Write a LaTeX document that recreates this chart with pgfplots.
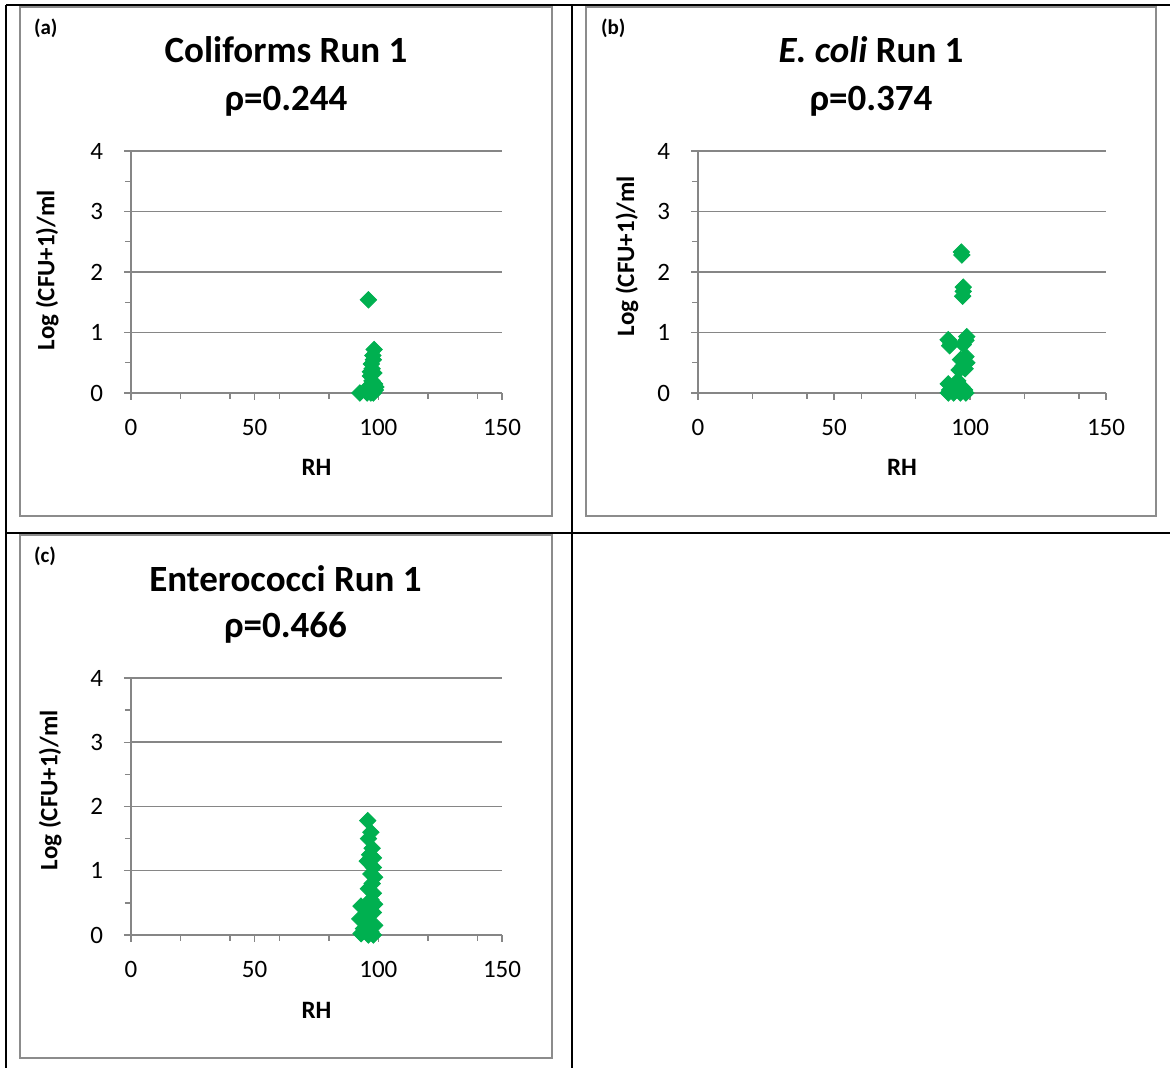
\documentclass[border=0pt]{standalone}
\usepackage{pgfplots}
\pgfplotsset{compat=1.18}
\usepackage{fontspec}
\setmainfont{Carlito}
\definecolor{xlgreen}{RGB}{0,176,80}
\definecolor{axgray}{RGB}{134,134,134}
\definecolor{framegray}{RGB}{140,140,140}
\pgfplotsset{
  rhstyle/.style={
    scale only axis,
    anchor=origin,
    xmin=0, xmax=150, ymin=0, ymax=4,
    xtick={0,50,100,150},
    minor xtick={20,40,60,80,120,140},
    ytick={0,1,2,3,4},
    minor ytick={0.5,1.5,2.5,3.5},
    tick align=outside,
    major tick length=3.5pt,
    minor tick length=3pt,
    tick style={draw=axgray, line width=0.7pt},
    minor tick style={draw=axgray, line width=0.7pt},
    axis x line*=bottom,
    axis y line*=left,
    axis line style={-, draw=axgray, line width=0.8pt},
    ymajorgrids,
    major grid style={draw=axgray, line width=0.75pt},
    clip=false,
    /pgf/number format/assume math mode=true,
    ticklabel style={font=\fontsize{12.5}{15}\selectfont},
    xticklabel style={yshift=-6pt},
    yticklabel style={xshift=-7pt},
    label style={font=\bfseries\fontsize{12.5}{15}\selectfont},
    xlabel={RH},
    ylabel={Log (CFU+1)/ml},
  },
  greendia/.style={only marks, mark=square*, mark size=2.9pt,
      mark options={rotate=45, fill=xlgreen, draw=xlgreen}, draw=xlgreen},
}
\begin{document}
\begin{tikzpicture}
\useasboundingbox (0,0) rectangle (585pt,534pt);
% table lines
\draw[line width=1pt] (3pt,0) -- (3pt,531.5pt);
\draw[line width=1pt] (3pt,531.5pt) -- (585pt,531.5pt);
\draw[line width=1pt] (286pt,0) -- (286pt,531.5pt);
\draw[line width=1pt] (3pt,267.5pt) -- (585pt,267.5pt);
% chart frames
\draw[framegray, line width=0.8pt] (10pt,276pt) rectangle (276pt,530.5pt);
\draw[framegray, line width=0.8pt] (293pt,276pt) rectangle (578pt,530.5pt);
\draw[framegray, line width=0.8pt] (10pt,5pt) rectangle (276pt,266.5pt);
% panel letters
\node[anchor=west, font=\bfseries\fontsize{10.5}{12}\selectfont] at (13.5pt,520pt) {(a)};
\node[anchor=west, font=\bfseries\fontsize{10.5}{12}\selectfont] at (297pt,520pt) {(b)};
\node[anchor=west, font=\bfseries\fontsize{10.5}{12}\selectfont] at (13.5pt,256pt) {(c)};
% titles
\node[font=\bfseries\fontsize{18.5}{22}\selectfont] at (143pt,509pt) {Coliforms Run 1};
\node[font=\bfseries\fontsize{18.5}{22}\selectfont] at (143pt,483.5pt) {ρ=0.244};
\node[font=\bfseries\fontsize{18.5}{22}\selectfont] at (435.5pt,509pt) {\textit{E. coli} Run 1};
\node[font=\bfseries\fontsize{18.5}{22}\selectfont] at (435.5pt,483.5pt) {ρ=0.374};
\node[font=\bfseries\fontsize{18.5}{22}\selectfont] at (142.75pt,244.5pt) {Enterococci Run 1};
\node[font=\bfseries\fontsize{18.5}{22}\selectfont] at (142.75pt,220pt) {ρ=0.466};

% (a)
\begin{axis}[rhstyle, at={(65.5pt,337.5pt)}, width=185.5pt, height=121pt,
  xlabel style={at={(axis description cs:0.5,-0.306)}, anchor=center},
  ylabel style={at={(axis description cs:-0.226,0.508)}, anchor=center, rotate=0}]
\addplot[greendia] coordinates {(92.5,0) (96,1.54) (98.3,0.72) (97.8,0.62) (98,0.55) (97.2,0.48)
 (97.5,0.4) (98.2,0.33) (96.8,0.28) (97.4,0.2) (98.5,0.15) (96.5,0.12) (97.8,0.08)
 (98.8,0.05) (96,0.03) (97,0) (98,0) (95.5,0) (99,0.1) (96.8,0.35)};
\end{axis}

% (b)
\begin{axis}[rhstyle, at={(349pt,337.5pt)}, width=204pt, height=121pt,
  xlabel style={at={(axis description cs:0.5,-0.306)}, anchor=center},
  ylabel style={at={(axis description cs:-0.174,0.566)}, anchor=center, rotate=0}]
\addplot[greendia] coordinates {(96.8,2.33) (97,2.28) (97.5,1.75) (97.5,1.68) (97.3,1.6)
 (92,0.88) (93,0.82) (92.5,0.78) (98.8,0.93) (98.5,0.87) (97.5,0.8)
 (98.5,0.6) (98.8,0.5) (96.5,0.55) (97.5,0.45) (96,0.38) (98.2,0.4)
 (92,0.15) (92.5,0.05) (92,0) (94,0) (96.5,0) (98.5,0) (97,0.1) (95.5,0.2) (98,0.05)};
\end{axis}

% (c)
\begin{axis}[rhstyle, at={(65.5pt,66.5pt)}, width=185.5pt, height=128.5pt,
  xlabel style={at={(axis description cs:0.5,-0.292)}, anchor=center},
  ylabel style={at={(axis description cs:-0.218,0.564)}, anchor=center, rotate=0}]
\addplot[greendia] coordinates {(95.7,1.78) (97,1.6) (96,1.5) (97.5,1.35) (96.5,1.25) (98,1.2)
 (95.5,1.15) (98,1.05) (97,0.95) (98.5,0.9) (97.5,0.8) (96,0.72) (98,0.65) (97,0.55)
 (98.5,0.48) (93,0.45) (95,0.4) (98,0.35) (92.5,0.25) (96,0.2) (98.5,0.15) (94,0.1)
 (93,0.02) (96,0) (98,0) (97,0.05)};
\end{axis}
\end{tikzpicture}
\end{document}
